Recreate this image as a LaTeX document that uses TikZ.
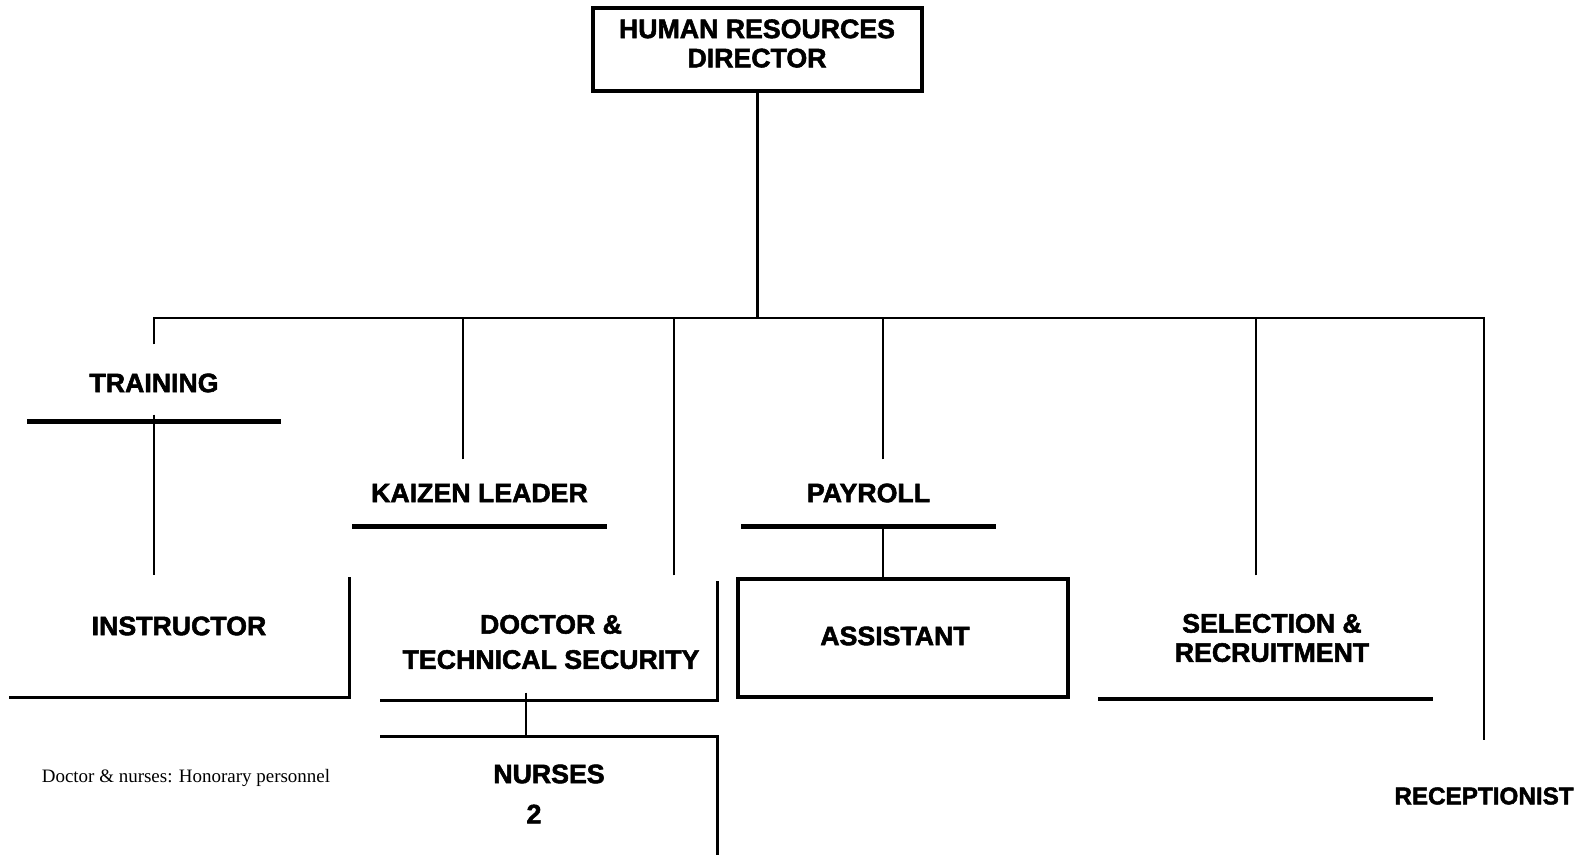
\documentclass[tikz,border=0pt]{standalone}
\usepackage{fontspec}
\setmainfont{Liberation Serif}
\newfontfamily\headfont{Liberation Sans Bold}[FakeBold=2]

\begin{document}
\begin{tikzpicture}[
    boxframe/.style={rectangle, inner sep=0pt},
    unittext/.style={align=center, inner sep=0pt, font=\headfont\fontsize{7.6pt}{8.3pt}\selectfont},
    headtext/.style={unittext, minimum height=0.66cm},
    notetext/.style={inner sep=0pt, font=\fontsize{5.4pt}{6pt}\selectfont},
    boxside/.style={line width=0.9pt},
    underrule/.style={line width=1.5pt},
    link/.style={line width=0.6pt}
]
\useasboundingbox (0,0) rectangle (15.84,-8.55);

% top of the chart
\node[boxframe, draw, boxside, minimum width=3.29cm, minimum height=0.83cm] (hrdir) at (7.575,-0.495) {};
\node[unittext] (hrdir_t) at (7.57,-0.435) {HUMAN RESOURCES\\DIRECTOR};

% section heads with their rules
\node[headtext, minimum width=2.52cm, minimum height=0.76cm] (training) at (1.54,-3.83) {TRAINING};
\node[headtext, minimum width=2.53cm] (kaizen) at (4.795,-4.93) {KAIZEN LEADER};
\node[headtext, minimum width=2.53cm] (payroll) at (8.685,-4.93) {PAYROLL};
\draw[underrule] (training.south west) -- (training.south east);
\draw[underrule] (kaizen.south west) -- (kaizen.south east);
\draw[underrule] (payroll.south west) -- (payroll.south east);

% boxes - only the sides that show
\node[boxframe, minimum width=3.39cm, minimum height=1.19cm] (instr) at (1.795,-6.375) {};
\node[unittext] (instr_t) at (1.79,-6.26) {INSTRUCTOR};
\draw[boxside] (instr.north east) -- (instr.south east) -- (instr.south west);

\node[boxframe, minimum width=3.36cm, minimum height=1.18cm] (doctor) at (5.49,-6.41) {};
\node[unittext] (doctor_t) at (5.51,-6.42) {DOCTOR \&\\[0.06cm]TECHNICAL SECURITY};
\draw[boxside] (doctor.north east) -- (doctor.south east) -- (doctor.south west);

\node[boxframe, minimum width=3.36cm, minimum height=1.17cm] (nurses) at (5.49,-7.955) {};
\node[unittext] (nurses_t) at (5.49,-7.74) {NURSES};
\node[unittext] (nurses_n) at (5.34,-8.14) {2};
\draw[boxside] (nurses.north west) -- (nurses.north east) -- (nurses.south east);

\node[boxframe, draw, boxside, minimum width=3.30cm, minimum height=1.18cm] (assist) at (9.03,-6.38) {};
\node[unittext] (assist_t) at (8.95,-6.36) {ASSISTANT};

\node[boxframe, minimum width=3.33cm, minimum height=1.18cm] (select) at (12.655,-6.39) {};
\node[unittext] (select_t) at (12.72,-6.38) {SELECTION \&\\RECRUITMENT};
\draw[underrule, line width=1.2pt] (select.south west) -- (select.south east);

\node[unittext, font=\headfont\fontsize{6.9pt}{8pt}\selectfont] (recept_t) at (14.84,-7.96) {RECEPTIONIST};

\node[notetext] (note) at (1.86,-7.78) {Doctor \& nurses: Honorary personnel};

% connectors
\draw[link] (hrdir.south) -- ++(0,-2.25) coordinate (hub);
\draw[link] (training.north) |- (hub);
\draw[link] (hub) -| ([yshift=4.7mm]recept_t.north);
\draw[link] ([xshift=-1.65mm]kaizen.north) -- ([xshift=-1.65mm]kaizen.north |- hub);
\draw[link] ([xshift=-4.4mm,yshift=0.6mm]doctor.north east) -- ([xshift=-4.4mm]doctor.north east |- hub);
\draw[link] ([xshift=1.45mm]payroll.north) -- ([xshift=1.45mm]payroll.north |- hub);
\draw[link] ([xshift=-0.95mm,yshift=0.4mm]select.north) -- ([xshift=-0.95mm]select.north |- hub);
\draw[link] ([yshift=0.7mm]training.south) -- ([yshift=0.2mm]training.south |- instr.north);
\draw[link] ([xshift=1.45mm]payroll.south) -- ([xshift=1.45mm]payroll.south |- assist.north);
\draw[link] ([xshift=-2.3mm,yshift=0.8mm]doctor.south) -- ([xshift=-2.3mm]doctor.south |- nurses.north);

\end{tikzpicture}
\end{document}
